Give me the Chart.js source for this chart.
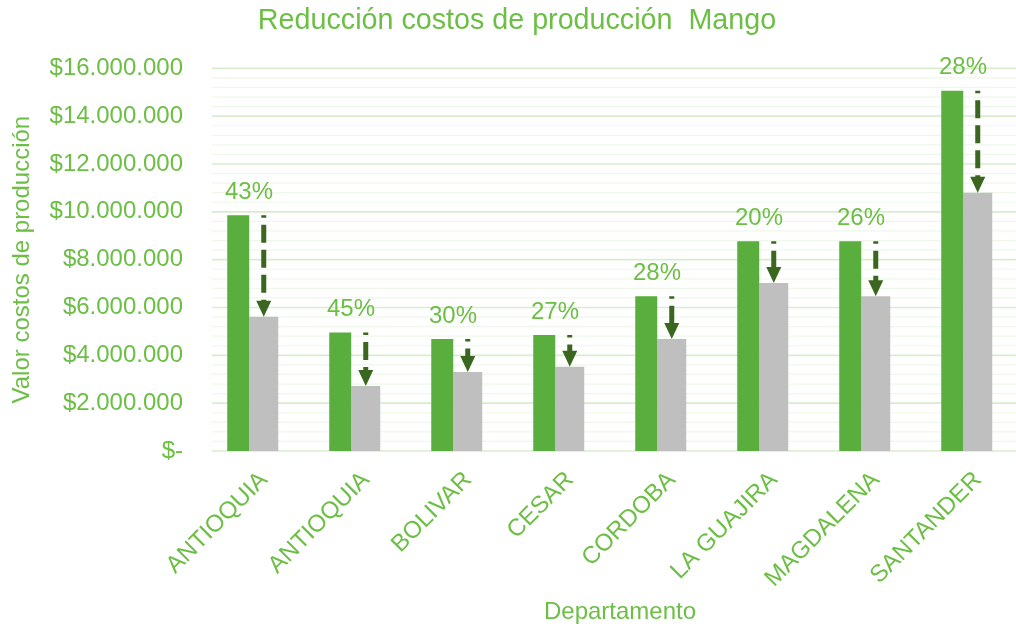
<!DOCTYPE html>
<html>
<head>
<meta charset="utf-8">
<script src="https://cdn.jsdelivr.net/npm/chart.js@4.4.1/dist/chart.umd.min.js"></script>
<style>
html,body{margin:0;padding:0;background:#fff;}
#wrap{width:1016px;height:627px;}
</style>
</head>
<body>
<div id="wrap"><canvas id="c" width="1016" height="627"></canvas></div>
<script>
const categories = ['ANTIOQUIA', 'ANTIOQUIA', 'BOLIVAR', 'CESAR', 'CORDOBA', 'LA GUAJIRA', 'MAGDALENA', 'SANTANDER'];
const costoActual = [9860000, 4950000, 4680000, 4850000, 6470000, 8770000, 8770000, 15060000];
const costoReducido = [5610000, 2720000, 3300000, 3520000, 4680000, 7020000, 6470000, 10800000];
const reduccion = ['43%', '45%', '30%', '27%', '28%', '20%', '26%', '28%'];
const yTicks = [0, 2000000, 4000000, 6000000, 8000000, 10000000, 12000000, 14000000, 16000000];
const minorStep = 400000;
const xTitle = 'Departamento';

const TEXT = '#6DBE45';
const GREEN = '#5AAE3D';
const GRAY = '#BFBFBF';
const DARK = '#3A661F';
const FONT = "'Liberation Sans', Arial, sans-serif";

function fmt(v) {
  if (v === 0) return '$-';
  return '$' + String(v).replace(/\B(?=(\d{3})+(?!\d))/g, '.');
}

const gridPlugin = {
  id: 'gridPlugin',
  beforeDatasetsDraw(chart) {
    const y = chart.scales.y, ca = chart.chartArea, ctx = chart.ctx;
    ctx.save();
    for (let v = y.min; v <= y.max + 1; v += minorStep) {
      const major = Math.abs(v % 2000000) < 1;
      const py = y.getPixelForValue(v);
      ctx.beginPath();
      ctx.strokeStyle = major ? '#D9EDCE' : '#EEF7E9';
      ctx.lineWidth = major ? 1.6 : 1.2;
      ctx.moveTo(212, py);
      ctx.lineTo(ca.right, py);
      ctx.stroke();
    }
    ctx.restore();
  }
};

const arrowPlugin = {
  id: 'arrowPlugin',
  afterDatasetsDraw(chart) {
    const ctx = chart.ctx;
    const m0 = chart.getDatasetMeta(0), m1 = chart.getDatasetMeta(1);
    const xs = chart.scales.x;
    ctx.save();
    for (let i = 0; i < categories.length; i++) {
      const g = m0.data[i], r = m1.data[i];
      const x = r.x, yTop = g.y, yBot = r.y;
      const headH = 16, headW = 7.5;
      ctx.beginPath();
      ctx.setLineDash([18, 7]);
      ctx.lineDashOffset = 15.5;
      ctx.strokeStyle = DARK;
      ctx.lineWidth = 5;
      ctx.moveTo(x, yTop);
      ctx.lineTo(x, yBot - headH + 1);
      ctx.stroke();
      ctx.setLineDash([]);
      ctx.beginPath();
      ctx.fillStyle = DARK;
      ctx.moveTo(x - headW, yBot - headH);
      ctx.lineTo(x + headW, yBot - headH);
      ctx.lineTo(x, yBot);
      ctx.closePath();
      ctx.fill();
      ctx.fillStyle = TEXT;
      ctx.font = '24px ' + FONT;
      ctx.textAlign = 'center';
      ctx.textBaseline = 'middle';
      ctx.fillText(reduccion[i], xs.getPixelForValue(i) - 2, yTop - 23);
    }
    // x axis title
    const ca = chart.chartArea;
    ctx.fillStyle = TEXT;
    ctx.font = '24px ' + FONT;
    ctx.textAlign = 'center';
    ctx.textBaseline = 'middle';
    ctx.fillText(xTitle, (ca.left + ca.right) / 2 + 12, xs.bottom - 15);
    ctx.restore();
  }
};

new Chart(document.getElementById('c'), {
  type: 'bar',
  data: {
    labels: categories,
    datasets: [
      { label: 'Costo actual', data: costoActual, backgroundColor: GREEN, barPercentage: 22 / 25.5, categoryPercentage: 0.5, borderWidth: 0 },
      { label: 'Costo reducido', data: costoReducido, backgroundColor: GRAY, barPercentage: 29 / 25.5, categoryPercentage: 0.5, borderWidth: 0 }
    ]
  },
  options: {
    responsive: false,
    animation: false,
    devicePixelRatio: 1,
    layout: { padding: { left: 18, right: 0, top: 0, bottom: 0 } },
    plugins: {
      legend: { display: false },
      tooltip: { enabled: false },
      title: {
        display: true,
        text: 'Reducción costos de producción  Mango',
        color: TEXT,
        font: { family: FONT, size: 28.7, weight: 'normal', lineHeight: 1.2 },
        padding: { top: 3.5, bottom: 30.4 }
      }
    },
    scales: {
      x: {
        grid: { display: false },
        border: { display: false },
        ticks: { color: TEXT, font: { family: FONT, size: 24 }, minRotation: 45, maxRotation: 45, autoSkip: false, padding: 7, labelOffset: 13 },
        title: { display: false },
        afterFit(s) { s.height = 176; }
      },
      y: {
        min: 0,
        max: 16000000,
        grid: { display: false, drawTicks: false },
        border: { display: false },
        afterBuildTicks(s) { s.ticks = yTicks.map(v => ({ value: v })); },
        ticks: { color: TEXT, font: { family: FONT, size: 24 }, padding: 17, callback: (v) => fmt(v) },
        title: { display: true, text: 'Valor costos de producción', color: TEXT, font: { family: FONT, size: 24, lineHeight: 0.4 }, padding: 0 },
        afterFit(s) { s.width = 182; }
      }
    }
  },
  plugins: [gridPlugin, arrowPlugin]
});
</script>
</body>
</html>
